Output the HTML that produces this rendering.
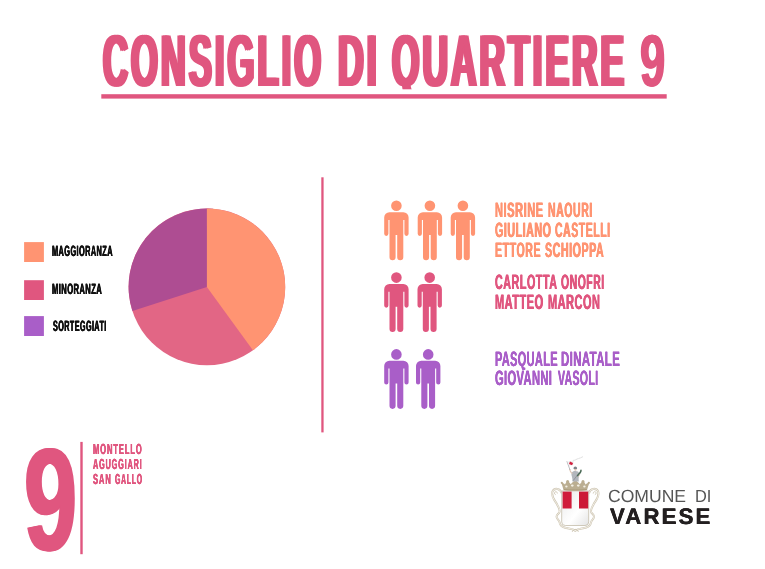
<!DOCTYPE html>
<html lang="it"><head><meta charset="utf-8"><title>Consiglio di Quartiere 9</title>
<style>
html,body{margin:0;padding:0;background:#fff}
body{text-rendering:geometricPrecision;width:765px;height:569px;position:relative;overflow:hidden;font-family:"Liberation Sans",sans-serif}
svg.bg{position:absolute;left:0;top:0}
.l{position:absolute;left:0;width:765px;height:0;white-space:nowrap;font-family:"Liberation Sans",sans-serif}
.t{position:absolute;top:0;white-space:nowrap;transform-origin:0 0;display:block}
</style></head><body>
<svg class="bg" width="765" height="569" viewBox="0 0 765 569">
<defs>
<path id="man" d="M-7,11.7H7A5.2,5.2 0 0 1 12.2,16.9V33.3A2.1,2.1 0 0 1 8,33.3V19.5H6.9V56.75A3.05,3.05 0 0 1 0.8,56.75V34.5H-0.8V56.75A3.05,3.05 0 0 1 -6.9,56.75V19.5H-8V33.3A2.1,2.1 0 0 1 -12.2,33.3V16.9A5.2,5.2 0 0 1 -7,11.7ZM5.3,5.3A5.3,5.3 0 1 1 -5.3,5.3A5.3,5.3 0 1 1 5.3,5.3Z"/>
<linearGradient id="shg" x1="0" y1="0" x2="1" y2="1"><stop offset="0" stop-color="#e9e9e9"/><stop offset="0.6" stop-color="#ffffff"/><stop offset="1" stop-color="#e4e4e4"/></linearGradient>
</defs>
<!-- title underline -->
<!-- legend -->
<rect x="24.1" y="242.1" width="19.8" height="19.9" fill="#ff9472"/>
<rect x="24.1" y="280.2" width="19.8" height="19.8" fill="#e0567f"/>
<rect x="24.1" y="316.1" width="19.8" height="19.9" fill="#a95ec8"/>
<!-- pie -->
<circle cx="206.9" cy="286.9" r="78.3" fill="#e26685"/>
<path d="M206.9,286.9L132.43,311.1A78.3,78.3 0 0 1 213,208.84L206.9,286.9Z" fill="#ae4d92"/>
<path d="M206.9,286.9V208.6A78.3,78.3 0 0 1 252.92,350.25Z" fill="#ff9472"/>
<!-- divider -->
<rect x="321.3" y="177.3" width="2.3" height="255.1" fill="#e0567f"/>
<!-- people -->
<g fill="#ff9472"><use href="#man" x="396.4" y="200.5"/><use href="#man" x="429.9" y="200.5"/><use href="#man" x="462.9" y="200.5"/></g>
<g fill="#e0567f"><use href="#man" x="396.4" y="272.3"/><use href="#man" x="429.7" y="272.3"/></g>
<g fill="#a95ec8"><use href="#man" x="396.4" y="349.1"/><use href="#man" x="428.2" y="349.1"/></g>
<!-- bottom-left line -->
<rect x="80.3" y="441.9" width="2.4" height="112.3" fill="#e0567f"/>
<!-- crest -->
<g id="crest">
<g fill="none" stroke-linecap="round">
<path id="scr" d="M561.2,492.4C560.6,488.8 554.6,487.2 552.5,491.4C550.8,496 554.4,499.8 556.6,503.6C558.6,507 560.4,509.8 559.4,512.2C558.4,514.2 556.4,514.6 556.6,516.8C556.8,519 559.2,520 559.6,522.4C560,525 561,526.4 564.4,527.5C568.4,528.8 572.2,528.2 575.3,530.6" stroke="#cdc5b2" stroke-width="2"/>
<use href="#scr" transform="translate(1150.6,0) scale(-1,1)"/>
<path id="scr2" d="M561.2,492.4C560.6,488.8 554.6,487.2 552.5,491.4C550.8,496 554.4,499.8 556.6,503.6C558.6,507 560.4,509.8 559.4,512.2C558.4,514.2 556.4,514.6 556.6,516.8C556.8,519 559.2,520 559.6,522.4C560,525 561,526.4 564.4,527.5C568.4,528.8 572.2,528.2 575.3,530.6" stroke="#f6f3ec" stroke-width="0.9"/>
<use href="#scr2" transform="translate(1150.6,0) scale(-1,1)"/>
<path d="M557.4,493.2A1.5,1.5 0 1 0 555.4,494.6M593.2,493.2A1.5,1.5 0 1 1 595.2,494.6" stroke="#cdc5b2" stroke-width="0.8"/>
<path d="M572.4,531.4C573.4,528.6 577.2,528.6 578.2,531.4" stroke="#cdc5b2" stroke-width="1"/>
</g>
<path d="M561.7,490.9H588.7V521.9A3.6,3.6 0 0 1 585.1,525.5H565.3A3.6,3.6 0 0 1 561.7,521.9Z" fill="url(#shg)" stroke="#c4bcaa" stroke-width="0.8"/>
<rect x="562.6" y="491.6" width="9" height="16.9" fill="#d01c3a"/>
<rect x="579" y="491.6" width="9.2" height="16.9" fill="#cc1a37"/>
<path d="M563.6,490.2C563,487.6 562.2,485 561.2,482.4C562.8,482.6 564,483.4 565,484.4C565.6,483.2 566.4,481.8 567.6,480.8C568.8,481.8 570,483 570.8,484.2C572,482.8 573.8,481 575.3,480C576.8,481 578.6,482.8 579.8,484.2C580.6,483 581.8,481.8 583,480.8C584.2,481.8 585,483.2 585.6,484.4C586.6,483.4 587.8,482.6 589.6,482.4C588.4,485 587.6,487.6 587,490.2C582,491 568.6,491 563.6,490.2Z" fill="#bbae91"/>
<g fill="#bbae91"><circle cx="561.8" cy="482.8" r="1.1"/><circle cx="567.6" cy="481.6" r="1.5"/><circle cx="575.3" cy="480.8" r="1.6"/><circle cx="583" cy="481.6" r="1.5"/><circle cx="588.8" cy="482.8" r="1.1"/></g>
<g fill="#f3efe4"><ellipse cx="566.4" cy="486.6" rx="1.2" ry="1"/><ellipse cx="572.3" cy="485.6" rx="1.4" ry="1.1"/><ellipse cx="578.3" cy="485.6" rx="1.4" ry="1.1"/><ellipse cx="584.4" cy="486.6" rx="1.2" ry="1"/></g>
<path d="M563.8,489.4C568,490.2 582.6,490.2 586.8,489.4" stroke="#a39473" stroke-width="0.7" fill="none"/>
<!-- knight -->
<path d="M572.4,481.4C572.6,479.4 572.2,477.6 571.6,475.6C571.2,473.8 571.6,472.2 573,471.4C574.4,470.8 576.6,470.8 578,471.6C579.2,472.6 579.4,474.2 579,476C578.6,477.8 578.4,479.6 578.8,481.4Z" fill="#b3b6bc"/>
<path d="M573.2,480.6L577.8,474.6" stroke="#8d9096" stroke-width="0.9" fill="none"/>
<path d="M572,473.4C570.8,472.4 570,471 569.7,469.4" stroke="#dcc3b2" stroke-width="1.1" fill="none" stroke-linecap="round"/>
<circle cx="575.4" cy="469.6" r="1.2" fill="#dcc3b2"/>
<path d="M573.5,468.2A1.8,1.8 0 0 1 577.1,468.2L576.9,469H573.7Z" fill="#7f838b"/>
<path d="M569.9,469.6L567,461.6" stroke="#a9abb0" stroke-width="0.8" fill="none" stroke-linecap="round"/>
<path d="M567.4,461.4L574.2,460.2L573.2,465L569.2,465.8Z" fill="#f1f1f1"/>
<path d="M573.6,460.4C575.6,460.6 576.4,458.8 578.4,458.6C580,458.4 581,457.4 582.6,456.8" stroke="#dedede" stroke-width="0.9" fill="none" stroke-linecap="round"/>
<rect x="569.3" y="462.2" width="3.4" height="2.5" fill="#d3203f" transform="rotate(24 571 463.5)"/>
<path d="M581,470.2C581,472.2 579.4,474 577.6,475.6" stroke="#4b6a56" stroke-width="1.5" fill="none" stroke-linecap="round"/>
<path d="M578.4,476.6C579,476 579.4,475.4 579.6,474.8" stroke="#dcc3b2" stroke-width="0.9" fill="none" stroke-linecap="round"/>
</g>
</svg>

<div class="l" style="top:24px;font-size:73.55px;line-height:73.55px;color:#e0567f;font-weight:bold"><span class="t" style="left:103.29px;letter-spacing:6.52px;transform:scaleX(0.4691);text-shadow:3.62px 0 0 currentColor,-3.62px 0 0 currentColor;">CONSIGLIO</span> <span class="t" style="left:337.76px;letter-spacing:6.32px;transform:scaleX(0.4844);text-shadow:3.51px 0 0 currentColor,-3.51px 0 0 currentColor;">DI</span> <span class="t" style="left:392.26px;letter-spacing:6.39px;transform:scaleX(0.4791);text-shadow:3.55px 0 0 currentColor,-3.55px 0 0 currentColor;">QUARTIERE</span> <span class="t" style="left:640.27px;letter-spacing:2.04px;transform:scaleX(0.6162);text-shadow:1.14px 0 0 currentColor,-1.14px 0 0 currentColor;">9</span></div>
<div class="l" style="top:245px;font-size:14.97px;line-height:14.97px;color:#111111;font-weight:bold"><span class="t" style="left:51.53px;letter-spacing:0.80px;transform:scaleX(0.4934);text-shadow:0.45px 0 0 currentColor,-0.45px 0 0 currentColor;">MAGGIORANZA</span></div>
<div class="l" style="top:283px;font-size:14.97px;line-height:14.97px;color:#111111;font-weight:bold"><span class="t" style="left:51.51px;letter-spacing:0.78px;transform:scaleX(0.5094);text-shadow:0.43px 0 0 currentColor,-0.43px 0 0 currentColor;">MINORANZA</span></div>
<div class="l" style="top:320px;font-size:14.97px;line-height:14.97px;color:#111111;font-weight:bold"><span class="t" style="left:53.02px;letter-spacing:0.82px;transform:scaleX(0.4830);text-shadow:0.46px 0 0 currentColor,-0.46px 0 0 currentColor;">SORTEGGIATI</span></div>
<div class="l" style="top:201px;font-size:20.64px;line-height:20.64px;color:#ff9472;font-weight:bold"><span class="t" style="left:494.76px;letter-spacing:1.01px;transform:scaleX(0.5366);text-shadow:0.56px 0 0 currentColor,-0.56px 0 0 currentColor;">NISRINE</span> <span class="t" style="left:547.59px;letter-spacing:1.06px;transform:scaleX(0.5111);text-shadow:0.59px 0 0 currentColor,-0.59px 0 0 currentColor;">NAOURI</span></div>
<div class="l" style="top:221px;font-size:20.64px;line-height:20.64px;color:#ff9472;font-weight:bold"><span class="t" style="left:495.30px;letter-spacing:1.04px;transform:scaleX(0.5173);text-shadow:0.58px 0 0 currentColor,-0.58px 0 0 currentColor;">GIULIANO</span> <span class="t" style="left:555.20px;letter-spacing:1.06px;transform:scaleX(0.5087);text-shadow:0.59px 0 0 currentColor,-0.59px 0 0 currentColor;">CASTELLI</span></div>
<div class="l" style="top:241px;font-size:20.64px;line-height:20.64px;color:#ff9472;font-weight:bold"><span class="t" style="left:494.79px;letter-spacing:1.05px;transform:scaleX(0.5140);text-shadow:0.58px 0 0 currentColor,-0.58px 0 0 currentColor;">ETTORE</span> <span class="t" style="left:545.00px;letter-spacing:1.04px;transform:scaleX(0.5177);text-shadow:0.58px 0 0 currentColor,-0.58px 0 0 currentColor;">SCHIOPPA</span></div>
<div class="l" style="top:273px;font-size:20.64px;line-height:20.64px;color:#e0567f;font-weight:bold"><span class="t" style="left:495.30px;letter-spacing:1.04px;transform:scaleX(0.5198);text-shadow:0.58px 0 0 currentColor,-0.58px 0 0 currentColor;">CARLOTTA</span> <span class="t" style="left:561.00px;letter-spacing:1.07px;transform:scaleX(0.5046);text-shadow:0.59px 0 0 currentColor,-0.59px 0 0 currentColor;">ONOFRI</span></div>
<div class="l" style="top:293px;font-size:20.64px;line-height:20.64px;color:#e0567f;font-weight:bold"><span class="t" style="left:494.77px;letter-spacing:1.02px;transform:scaleX(0.5313);text-shadow:0.56px 0 0 currentColor,-0.56px 0 0 currentColor;">MATTEO</span> <span class="t" style="left:548.27px;letter-spacing:1.02px;transform:scaleX(0.5302);text-shadow:0.57px 0 0 currentColor,-0.57px 0 0 currentColor;">MARCON</span></div>
<div class="l" style="top:350px;font-size:20.64px;line-height:20.64px;color:#a95ec8;font-weight:bold"><span class="t" style="left:494.67px;letter-spacing:0.68px;transform:scaleX(0.5307);text-shadow:0.38px 0 0 currentColor,-0.38px 0 0 currentColor;">PASQUALE</span> <span class="t" style="left:561.44px;letter-spacing:0.65px;transform:scaleX(0.5558);text-shadow:0.36px 0 0 currentColor,-0.36px 0 0 currentColor;">DINATALE</span></div>
<div class="l" style="top:369px;font-size:20.64px;line-height:20.64px;color:#a95ec8;font-weight:bold"><span class="t" style="left:495.20px;letter-spacing:0.66px;transform:scaleX(0.5415);text-shadow:0.37px 0 0 currentColor,-0.37px 0 0 currentColor;">GIOVANNI</span> <span class="t" style="left:557.80px;letter-spacing:0.71px;transform:scaleX(0.5085);text-shadow:0.39px 0 0 currentColor,-0.39px 0 0 currentColor;">VASOLI</span></div>
<div class="l" style="top:427px;font-size:146.01px;line-height:146.01px;color:#e0567f;font-weight:bold"><span class="t" style="left:23.93px;letter-spacing:3.31px;transform:scaleX(0.6535);text-shadow:1.84px 0 0 currentColor,-1.84px 0 0 currentColor;">9</span></div>
<div class="l" style="top:443px;font-size:14.54px;line-height:14.54px;color:#e0567f;font-weight:bold"><span class="t" style="left:93.05px;letter-spacing:1.70px;transform:scaleX(0.5219);text-shadow:0.29px 0 0 currentColor,-0.29px 0 0 currentColor;">MONTELLO</span></div>
<div class="l" style="top:458px;font-size:14.54px;line-height:14.54px;color:#e0567f;font-weight:bold"><span class="t" style="left:93.05px;letter-spacing:1.70px;transform:scaleX(0.4994);text-shadow:0.30px 0 0 currentColor,-0.30px 0 0 currentColor;">AGUGGIARI</span></div>
<div class="l" style="top:473px;font-size:14.54px;line-height:14.54px;color:#e0567f;font-weight:bold"><span class="t" style="left:93.05px;letter-spacing:1.70px;transform:scaleX(0.5210);text-shadow:0.29px 0 0 currentColor,-0.29px 0 0 currentColor;">SAN</span> <span class="t" style="left:115.45px;letter-spacing:1.70px;transform:scaleX(0.4691);text-shadow:0.32px 0 0 currentColor,-0.32px 0 0 currentColor;">GALLO</span></div>
<div class="l" style="top:488px;font-size:17.59px;line-height:17.59px;color:#555555;font-weight:normal"><span class="t" style="left:608.20px;letter-spacing:0.00px;transform:scaleX(0.9987);">COMUNE</span> <span class="t" style="left:695.07px;letter-spacing:0.00px;transform:scaleX(0.9303);">DI</span></div>
<div class="l" style="top:506px;font-size:22.53px;line-height:22.53px;color:#231f20;font-weight:bold"><span class="t" style="left:610.00px;letter-spacing:2.20px;transform:scaleX(0.9843);text-shadow:0.30px 0 0 currentColor,-0.30px 0 0 currentColor;">VARESE</span></div>
<svg class="bg" width="765" height="569" viewBox="0 0 765 569"><rect x="386" y="89.3" width="44" height="18" fill="#fff"/><rect x="101.3" y="94.2" width="565.4" height="4.4" fill="#e0567f"/></svg>
</body></html>
